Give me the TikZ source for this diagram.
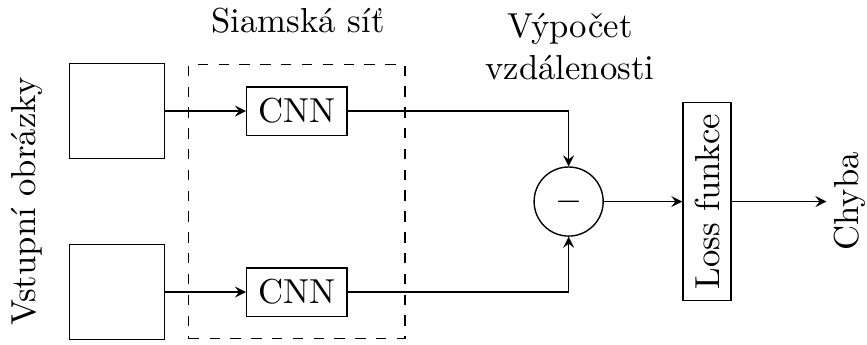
\documentclass[tikz,border=0pt]{standalone}
\usepackage{fontspec}
\usepackage{tikz}
\usetikzlibrary{shapes,arrows,positioning,fit,calc}

\begin{document}
\begin{tikzpicture}
    \tikzstyle{image} = [draw, rectangle, minimum width=0.96cm, minimum height=0.96cm]
    \tikzstyle{net} = [draw, rectangle]
    \tikzstyle{diffop} = [draw, circle, minimum size=0.7cm, inner sep=0pt]
    \tikzstyle{line} = [draw, -stealth]

    \useasboundingbox (0,0) rectangle (8.784,-3.495);

    \node [image] (img1) at (1.185,-1.125) {};
    \node [image, below=0.86cm of img1] (img2) {};
    \node [net, right=0.82cm of img1] (cnn1) {CNN};
    \node [net, right=0.82cm of img2] (cnn2) {CNN};
    \node [draw, dashed, fit=(cnn1)(cnn2), inner xsep=0.58cm, inner ysep=0.22cm] (siam) {};
    \node (siamlabel) at (3.02,-0.213) {Siamská síť};
    \node [rotate=90] (vstup) at (0.274,-2.04) {Vstupní obrázky};

    % rozdil obou vetvi, pak loss a vystup na stejne vysce
    \node [diffop] (diff) at ($(cnn1.east)!0.5!(cnn2.east) + (2.24,0)$) {$-$};
    \node [align=center] (dist) at (5.775,-0.471) {Výpočet\\vzdálenosti};
    \node [net, rotate=90] (loss) at (diff -| 7.163,0) {Loss funkce};
    \node [rotate=90, inner sep=2pt] (chyba) at (diff -| 8.61,0) {Chyba};

    \draw [line] (img1) -- (cnn1);
    \draw [line] (img2) -- (cnn2);
    \draw [line] (cnn1) -| (diff);
    \draw [line] (cnn2) -| (diff);
    \draw [line] (diff) -- (loss);
    \draw [line] (loss) -- (chyba.north);
\end{tikzpicture}
\end{document}
